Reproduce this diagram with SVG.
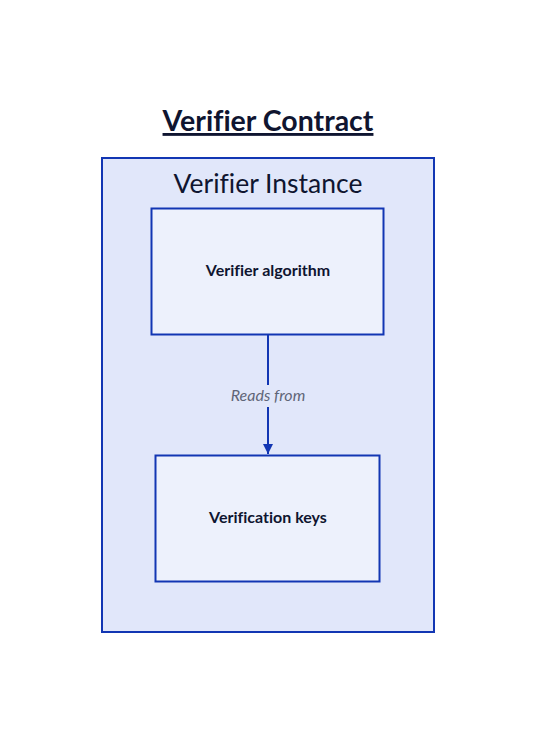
<svg xmlns="http://www.w3.org/2000/svg" width="536" height="734" viewBox="0 0 536 734">
<style>
.box{stroke:#1236b3;stroke-width:2}
.outer{fill:#e1e7fa}
.inner{fill:#edf1fc}
.t{font-family:Lato,"Open Sans",sans-serif;fill:#0f1530;text-anchor:middle;font-variant-ligatures:none}
.nl{font-size:16px;font-weight:bold}
.el{font-family:Lato,"Open Sans",sans-serif;font-size:16px;font-style:italic;fill:#5f6577;text-anchor:middle}
.edge{stroke:#1236b3;stroke-width:2;fill:none}
</style>
<defs>
<marker id="arr" viewBox="0 0 10 10" refX="10" refY="5" markerWidth="5" markerHeight="5" orient="auto" markerUnits="strokeWidth">
<path d="M0,0 L10,5 L0,10 z" fill="#1236b3"/>
</marker>
</defs>
<rect width="536" height="734" fill="#ffffff"/>
<text class="t" x="268" y="131" font-size="28.5" font-weight="bold" text-decoration="underline">Verifier Contract</text>
<g id="verifier-instance">
<rect class="box outer" x="102" y="158" width="332" height="474"/>
<text class="t" x="268" y="193" font-size="26.5">Verifier Instance</text>
</g>
<g id="verifier-algorithm">
<rect class="box inner" x="151.5" y="208.5" width="232" height="126"/>
<text class="t nl" x="268" y="276">Verifier algorithm</text>
</g>
<g id="verification-keys">
<rect class="box inner" x="155.5" y="455.5" width="224" height="126"/>
<text class="t nl" x="268" y="523">Verification keys</text>
</g>
<g id="connectors">
<line class="edge" x1="268" y1="335" x2="268" y2="385"/>
<line class="edge" x1="268" y1="407" x2="268" y2="454" marker-end="url(#arr)"/>
<text class="el" x="268" y="401">Reads from</text>
</g>
</svg>
